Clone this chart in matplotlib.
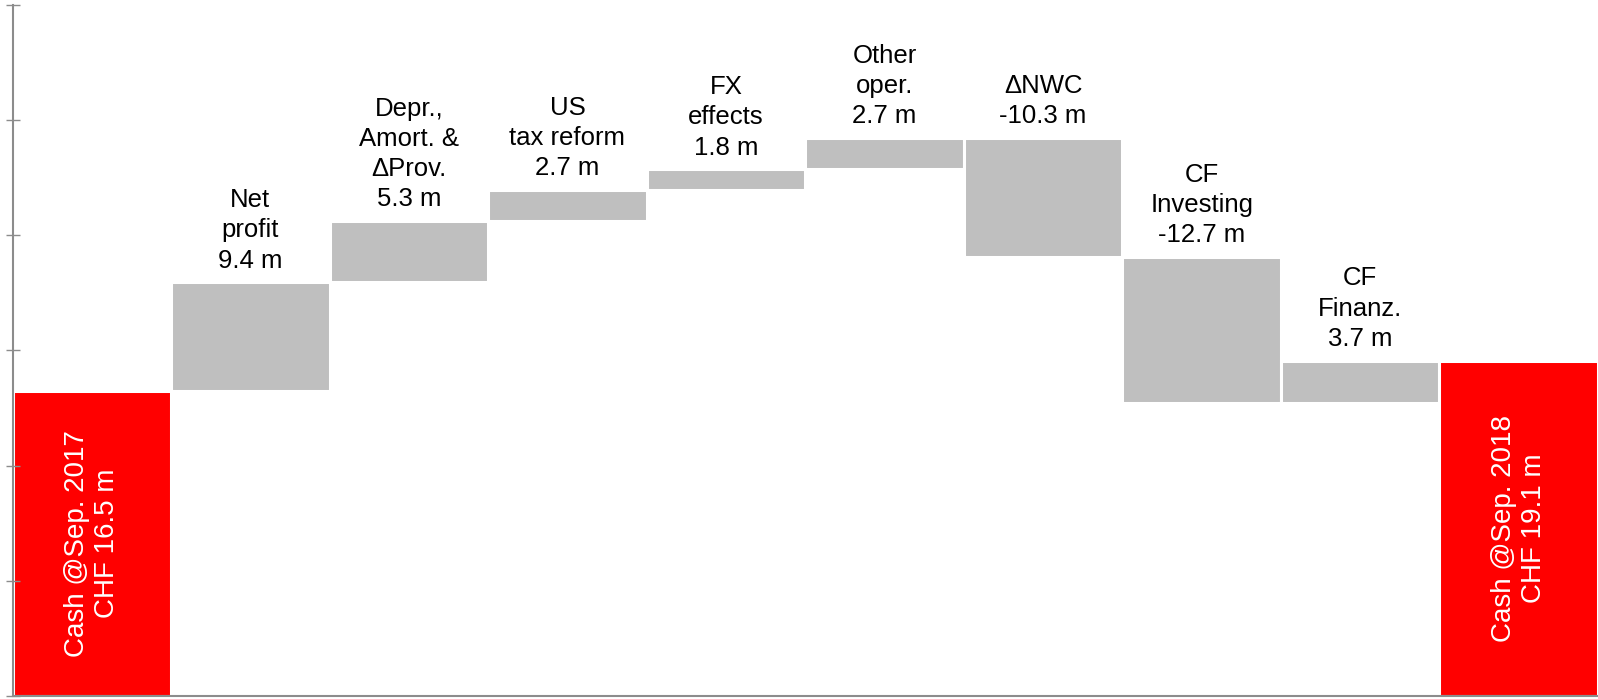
import matplotlib
matplotlib.use("Agg")
import matplotlib.pyplot as plt
import numpy as np

plt.rcParams['font.family'] = ['Liberation Sans', 'DejaVu Sans']

categories = ["Cash @Sep. 2017\nCHF 16.5 m", "Net\nprofit\n9.4 m", "Depr.,\nAmort. &\nΔProv.\n5.3 m",
              "US\ntax reform\n2.7 m", "FX\neffects\n1.8 m", "Other\noper.\n2.7 m",
              "ΔNWC\n-10.3 m", "CF\nInvesting\n-12.7 m", "CF\nFinanz.\n3.7 m",
              "Cash @Sep. 2018\nCHF 19.1 m"]
start_value = 16.5
deltas = [9.4, 5.3, 2.7, 1.8, 2.7, -10.3, -12.7, 3.7]
end_value = 19.1
y_ticks = [-10, 0, 10, 20, 30, 40, 50]

GRAY = '#BFBFBF'
RED = '#FF0000'
AXC = '#8C8C8C'

fig = plt.figure(figsize=(15.98, 6.99), dpi=100)
ax = fig.add_axes([12.5/1598, 1 - 696/699, 1 - 12.5/1598, (696 - 4.5)/699])
ymin, ymax = y_ticks[0], y_ticks[-1]
ax.set_xlim(-0.5, len(categories) - 0.5)
ax.set_ylim(ymin, ymax)

lw = 2.2
LBL_FS = 18.5
TOT_FS = 20
# start total
ax.bar(0, start_value - ymin, bottom=ymin, width=1.0, color=RED, edgecolor='white', linewidth=lw)
ax.text(0, (start_value + ymin) / 2, categories[0], rotation=90, ha='center', va='center',
        multialignment='center', color='white', fontsize=TOT_FS, linespacing=1.22)

cum = start_value
for i, d in enumerate(deltas, start=1):
    lo, hi = min(cum, cum + d), max(cum, cum + d)
    ax.bar(i, hi - lo, bottom=lo, width=1.0, color=GRAY, edgecolor='white', linewidth=lw)
    ax.annotate(categories[i], xy=(i, hi), xytext=(0, 7), textcoords='offset points',
                ha='center', va='bottom', multialignment='center', fontsize=LBL_FS,
                color='black', linespacing=1.33)
    cum += d

n = len(categories) - 1
ax.bar(n, end_value - ymin, bottom=ymin, width=1.0, color=RED, edgecolor='white', linewidth=lw)
ax.text(n, (end_value + ymin) / 2, categories[n], rotation=90, ha='center', va='center',
        multialignment='center', color='white', fontsize=TOT_FS, linespacing=1.22)

for s in ['top', 'right']:
    ax.spines[s].set_visible(False)
for s in ['left', 'bottom']:
    ax.spines[s].set_color(AXC)
    ax.spines[s].set_linewidth(1.5)
ax.set_yticks(y_ticks)
ax.set_yticklabels([])
ax.tick_params(axis='y', direction='inout', length=9.5, width=1.0, color=AXC)
ax.set_xticks([])

fig.savefig('out.png', dpi=100)
